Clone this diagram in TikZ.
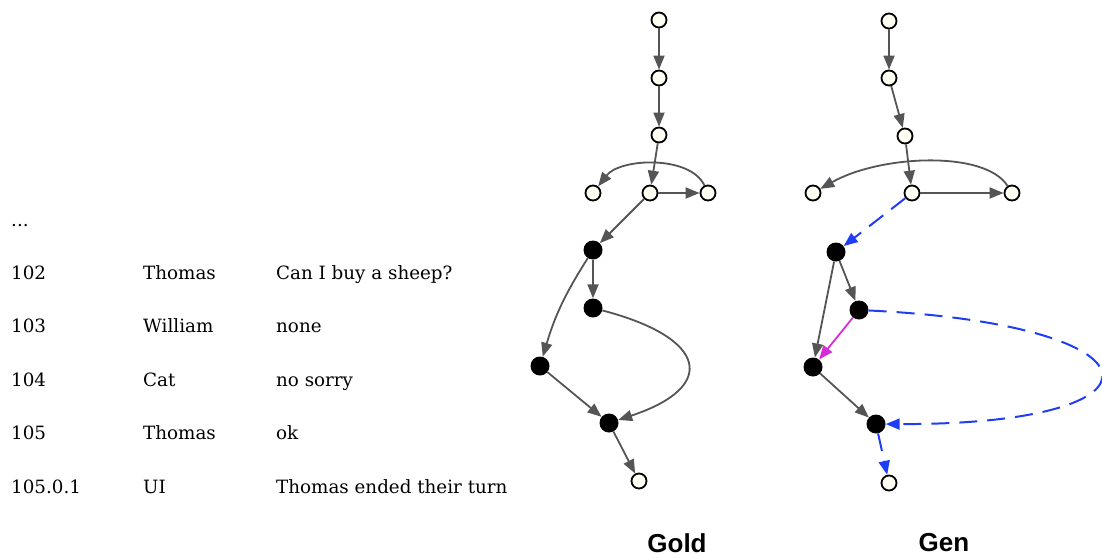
\documentclass[tikz,border=0pt]{standalone}
\usepackage{fontspec}
\setmainfont{DejaVu Serif}
\newfontfamily\labfont{Liberation Sans}
\usetikzlibrary{arrows.meta}
\definecolor{edgegray}{HTML}{555555}
\definecolor{dblue}{HTML}{1F3DF5}
\definecolor{mag}{HTML}{D82BD8}
\definecolor{cream}{HTML}{FFFFF4}
\tikzset{
  wnode/.style={circle,draw=black,line width=1.8pt,fill=cream,minimum size=15pt,inner sep=0pt},
  bnode/.style={circle,fill=black,minimum size=19pt,inner sep=0pt},
  edge/.style={draw=edgegray,line width=1.8pt,-{Triangle[length=14pt,width=11pt]}},
  bedge/.style={draw=dblue,line width=2pt,dash pattern=on 18pt off 10pt,-{Triangle[length=14pt,width=11pt]}},
  medge/.style={draw=mag,line width=1.8pt,-{Triangle[length=14pt,width=11pt]}},
  txt/.style={anchor=base west,font=\fontsize{18.3}{21}\selectfont,inner sep=0pt},
  title/.style={anchor=base,font=\labfont\bfseries\fontsize{26}{30}\selectfont,inner sep=0pt}
}
\begin{document}
\begin{tikzpicture}[x=1pt,y=-1pt]
\useasboundingbox (0,0) rectangle (1102,557);
% table
\node[txt] (dots) at (11,226) {...};
\node[txt] (r1a) at (11,279) {102};
\node[txt] (r1b) at (143,279) {Thomas};
\node[txt] (r1c) at (276,279) {Can I buy a sheep?};
\node[txt] (r2a) at (11,332) {103};
\node[txt] (r2b) at (143,332) {William};
\node[txt] (r2c) at (276,332) {none};
\node[txt] (r3a) at (11,386) {104};
\node[txt] (r3b) at (143,386) {Cat};
\node[txt] (r3c) at (276,386) {no sorry};
\node[txt] (r4a) at (11,439) {105};
\node[txt] (r4b) at (143,439) {Thomas};
\node[txt] (r4c) at (276,439) {ok};
\node[txt] (r5a) at (11,493) {105.0.1};
\node[txt] (r5b) at (143,493) {UI};
\node[txt] (r5c) at (276,493) {Thomas ended their turn};
% Gold graph
\node[wnode] (g1) at (659,20) {};
\node[wnode] (g2) at (659,78) {};
\node[wnode] (g3) at (659,135) {};
\node[wnode] (gL) at (593,193) {};
\node[wnode] (gM) at (650,193) {};
\node[wnode] (gR) at (708,193) {};
\node[bnode] (gb1) at (593,250) {};
\node[bnode] (gb2) at (593,308) {};
\node[bnode] (gb3) at (540,366) {};
\node[bnode] (gb4) at (609,423) {};
\node[wnode] (gw) at (639,481) {};
\draw[edge] (g1) -- (g2);
\draw[edge] (g2) -- (g3);
\draw[edge] (g3) -- (gM);
\draw[edge] (gM) -- (gR);
\draw[edge] (gR) .. controls (690,155) and (620,158) .. (gL);
\draw[edge] (gM) -- (gb1);
\draw[edge] (gb1) -- (gb2);
\draw[edge] (gb1) to[bend right=8] (gb3);
\draw[edge] (gb3) -- (gb4);
\draw[edge] (gb2) .. controls (708,338) and (718,387) .. (gb4);
\draw[edge] (gb4) -- (gw);
\node[title] (gold) at (677,552) {Gold};
% Gen graph
\node[wnode] (n1) at (889,21) {};
\node[wnode] (n2) at (889,78) {};
\node[wnode] (n3) at (905,136) {};
\node[wnode] (nL) at (813,193) {};
\node[wnode] (nM) at (912,193) {};
\node[wnode] (nR) at (1012,193) {};
\node[bnode] (nb1) at (836,252) {};
\node[bnode] (nb2) at (859,310) {};
\node[bnode] (nb3) at (813,367) {};
\node[bnode] (nb4) at (876,424) {};
\node[wnode] (nw) at (889,483) {};
\draw[edge] (n1) -- (n2);
\draw[edge] (n2) -- (n3);
\draw[edge] (n3) -- (nM);
\draw[edge] (nM) -- (nR);
\draw[edge] (nR) .. controls (985,150) and (880,155) .. (nL);
\draw[bedge] (nM) -- (nb1);
\draw[edge] (nb1) -- (nb2);
\draw[edge] (nb1) -- (nb3);
\draw[medge] (nb2) -- (nb3);
\draw[edge] (nb3) -- (nb4);
\draw[bedge] (nb2) .. controls (1170,325) and (1180,425) .. (nb4);
\draw[bedge] (nb4) -- (nw);
\node[title] (gen) at (944,551) {Gen};
\end{tikzpicture}
\end{document}
